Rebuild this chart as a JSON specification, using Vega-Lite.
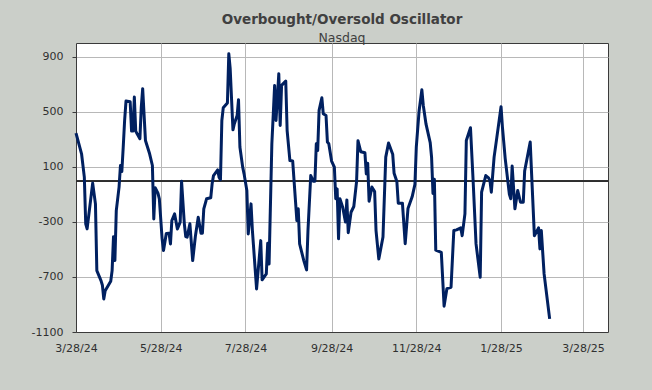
{
  "$schema": "https://vega.github.io/schema/vega-lite/v6.json",
  "width": 532,
  "height": 289,
  "autosize": {"type": "none"},
  "padding": {"left": 76, "top": 43, "right": 44, "bottom": 58},
  "background": "#cbcfc9",
  "config": {
    "view": {"stroke": "#3a3a3a", "strokeWidth": 1, "fill": "white"},
    "font": "DejaVu Sans"
  },
  "title": {
    "text": "Overbought/Oversold Oscillator",
    "subtitle": "Nasdaq",
    "anchor": "middle",
    "frame": "group",
    "font": "DejaVu Sans",
    "fontSize": 13.5,
    "fontWeight": "bold",
    "color": "#404040",
    "subtitleFont": "DejaVu Sans",
    "subtitleFontSize": 12.5,
    "subtitleColor": "#404040",
    "subtitlePadding": 5,
    "offset": -1
  },
  "data": {
    "values": [
      {"date": "2024-03-28", "value": 345},
      {"date": "2024-04-01", "value": 195},
      {"date": "2024-04-03", "value": 25},
      {"date": "2024-04-04", "value": -314},
      {"date": "2024-04-05", "value": -351},
      {"date": "2024-04-09", "value": -18},
      {"date": "2024-04-11", "value": -169},
      {"date": "2024-04-12", "value": -654},
      {"date": "2024-04-15", "value": -727},
      {"date": "2024-04-16", "value": -760},
      {"date": "2024-04-17", "value": -860},
      {"date": "2024-04-18", "value": -800},
      {"date": "2024-04-22", "value": -731},
      {"date": "2024-04-23", "value": -654},
      {"date": "2024-04-24", "value": -407},
      {"date": "2024-04-25", "value": -581},
      {"date": "2024-04-26", "value": -218},
      {"date": "2024-04-28", "value": -47},
      {"date": "2024-04-29", "value": 110},
      {"date": "2024-04-30", "value": 66},
      {"date": "2024-05-01", "value": 244},
      {"date": "2024-05-02", "value": 437},
      {"date": "2024-05-03", "value": 578},
      {"date": "2024-05-06", "value": 573},
      {"date": "2024-05-07", "value": 360},
      {"date": "2024-05-08", "value": 360},
      {"date": "2024-05-09", "value": 607},
      {"date": "2024-05-10", "value": 360},
      {"date": "2024-05-11", "value": 340},
      {"date": "2024-05-13", "value": 304},
      {"date": "2024-05-14", "value": 535},
      {"date": "2024-05-15", "value": 668},
      {"date": "2024-05-17", "value": 292},
      {"date": "2024-05-20", "value": 195},
      {"date": "2024-05-22", "value": 110},
      {"date": "2024-05-23", "value": -278},
      {"date": "2024-05-24", "value": -52},
      {"date": "2024-05-26", "value": -91},
      {"date": "2024-05-27", "value": -132},
      {"date": "2024-05-29", "value": -423},
      {"date": "2024-05-30", "value": -508},
      {"date": "2024-06-01", "value": -385},
      {"date": "2024-06-03", "value": -382},
      {"date": "2024-06-04", "value": -460},
      {"date": "2024-06-05", "value": -290},
      {"date": "2024-06-07", "value": -242},
      {"date": "2024-06-09", "value": -351},
      {"date": "2024-06-11", "value": -302},
      {"date": "2024-06-12", "value": -5},
      {"date": "2024-06-14", "value": -314},
      {"date": "2024-06-15", "value": -407},
      {"date": "2024-06-16", "value": -411},
      {"date": "2024-06-18", "value": -314},
      {"date": "2024-06-20", "value": -581},
      {"date": "2024-06-22", "value": -400},
      {"date": "2024-06-24", "value": -266},
      {"date": "2024-06-26", "value": -382},
      {"date": "2024-06-27", "value": -382},
      {"date": "2024-06-28", "value": -205},
      {"date": "2024-06-30", "value": -132},
      {"date": "2024-07-03", "value": -125},
      {"date": "2024-07-04", "value": -23},
      {"date": "2024-07-05", "value": 37},
      {"date": "2024-07-08", "value": 78},
      {"date": "2024-07-09", "value": 25},
      {"date": "2024-07-10", "value": 6},
      {"date": "2024-07-11", "value": 437},
      {"date": "2024-07-12", "value": 529},
      {"date": "2024-07-15", "value": 564},
      {"date": "2024-07-16", "value": 922},
      {"date": "2024-07-17", "value": 813},
      {"date": "2024-07-19", "value": 369},
      {"date": "2024-07-20", "value": 413},
      {"date": "2024-07-22", "value": 473},
      {"date": "2024-07-23", "value": 588},
      {"date": "2024-07-24", "value": 244},
      {"date": "2024-07-26", "value": 98},
      {"date": "2024-07-27", "value": 49},
      {"date": "2024-07-29", "value": -72},
      {"date": "2024-07-30", "value": -387},
      {"date": "2024-08-01", "value": -169},
      {"date": "2024-08-02", "value": -363},
      {"date": "2024-08-05", "value": -787},
      {"date": "2024-08-08", "value": -436},
      {"date": "2024-08-09", "value": -721},
      {"date": "2024-08-12", "value": -678},
      {"date": "2024-08-13", "value": -455},
      {"date": "2024-08-14", "value": -605},
      {"date": "2024-08-16", "value": 268},
      {"date": "2024-08-18", "value": 692},
      {"date": "2024-08-19", "value": 437},
      {"date": "2024-08-21", "value": 777},
      {"date": "2024-08-22", "value": 401},
      {"date": "2024-08-23", "value": 692},
      {"date": "2024-08-26", "value": 724},
      {"date": "2024-08-27", "value": 364},
      {"date": "2024-08-29", "value": 146},
      {"date": "2024-08-31", "value": 142},
      {"date": "2024-09-02", "value": -145},
      {"date": "2024-09-03", "value": -290},
      {"date": "2024-09-04", "value": -205},
      {"date": "2024-09-05", "value": -460},
      {"date": "2024-09-08", "value": -581},
      {"date": "2024-09-10", "value": -649},
      {"date": "2024-09-11", "value": -363},
      {"date": "2024-09-13", "value": 37},
      {"date": "2024-09-15", "value": -5},
      {"date": "2024-09-16", "value": -5},
      {"date": "2024-09-17", "value": 268},
      {"date": "2024-09-18", "value": 219},
      {"date": "2024-09-19", "value": 510},
      {"date": "2024-09-21", "value": 602},
      {"date": "2024-09-22", "value": 486},
      {"date": "2024-09-24", "value": 473},
      {"date": "2024-09-25", "value": 280},
      {"date": "2024-09-26", "value": 268},
      {"date": "2024-09-28", "value": 142},
      {"date": "2024-09-30", "value": 98},
      {"date": "2024-10-01", "value": -132},
      {"date": "2024-10-02", "value": -60},
      {"date": "2024-10-03", "value": -423},
      {"date": "2024-10-04", "value": -132},
      {"date": "2024-10-06", "value": -193},
      {"date": "2024-10-08", "value": -300},
      {"date": "2024-10-09", "value": -140},
      {"date": "2024-10-10", "value": -378},
      {"date": "2024-10-12", "value": -230},
      {"date": "2024-10-14", "value": -188},
      {"date": "2024-10-16", "value": -5},
      {"date": "2024-10-17", "value": 290},
      {"date": "2024-10-19", "value": 210},
      {"date": "2024-10-22", "value": 202},
      {"date": "2024-10-23", "value": 49},
      {"date": "2024-10-24", "value": 127},
      {"date": "2024-10-25", "value": -150},
      {"date": "2024-10-27", "value": -47},
      {"date": "2024-10-29", "value": -79},
      {"date": "2024-10-30", "value": -363},
      {"date": "2024-11-01", "value": -570},
      {"date": "2024-11-04", "value": -410},
      {"date": "2024-11-06", "value": 171},
      {"date": "2024-11-08", "value": 273},
      {"date": "2024-11-11", "value": 192},
      {"date": "2024-11-12", "value": 54},
      {"date": "2024-11-14", "value": -7},
      {"date": "2024-11-15", "value": -164},
      {"date": "2024-11-18", "value": -164},
      {"date": "2024-11-20", "value": -458},
      {"date": "2024-11-22", "value": -203},
      {"date": "2024-11-25", "value": -118},
      {"date": "2024-11-27", "value": -27},
      {"date": "2024-11-28", "value": 246},
      {"date": "2024-11-30", "value": 506},
      {"date": "2024-12-02", "value": 660},
      {"date": "2024-12-03", "value": 548},
      {"date": "2024-12-05", "value": 410},
      {"date": "2024-12-08", "value": 276},
      {"date": "2024-12-09", "value": 168},
      {"date": "2024-12-10", "value": -94},
      {"date": "2024-12-11", "value": 10},
      {"date": "2024-12-12", "value": -505},
      {"date": "2024-12-16", "value": -522},
      {"date": "2024-12-18", "value": -912},
      {"date": "2024-12-20", "value": -785},
      {"date": "2024-12-23", "value": -775},
      {"date": "2024-12-25", "value": -363},
      {"date": "2024-12-27", "value": -358},
      {"date": "2024-12-30", "value": -343},
      {"date": "2024-12-31", "value": -400},
      {"date": "2025-01-02", "value": -242},
      {"date": "2025-01-03", "value": 292},
      {"date": "2025-01-06", "value": 384},
      {"date": "2025-01-08", "value": -23},
      {"date": "2025-01-10", "value": -460},
      {"date": "2025-01-13", "value": -702},
      {"date": "2025-01-14", "value": -84},
      {"date": "2025-01-17", "value": 37},
      {"date": "2025-01-19", "value": 20},
      {"date": "2025-01-20", "value": 0},
      {"date": "2025-01-21", "value": -84},
      {"date": "2025-01-23", "value": 171},
      {"date": "2025-01-25", "value": 316},
      {"date": "2025-01-28", "value": 537},
      {"date": "2025-01-29", "value": 389},
      {"date": "2025-01-31", "value": 160},
      {"date": "2025-02-03", "value": -100},
      {"date": "2025-02-04", "value": -132},
      {"date": "2025-02-05", "value": 106},
      {"date": "2025-02-07", "value": -205},
      {"date": "2025-02-09", "value": -72},
      {"date": "2025-02-11", "value": -157},
      {"date": "2025-02-13", "value": -157},
      {"date": "2025-02-14", "value": 70},
      {"date": "2025-02-18", "value": 280},
      {"date": "2025-02-19", "value": 49},
      {"date": "2025-02-21", "value": -400},
      {"date": "2025-02-23", "value": -363},
      {"date": "2025-02-24", "value": -343},
      {"date": "2025-02-25", "value": -496},
      {"date": "2025-02-26", "value": -363},
      {"date": "2025-02-28", "value": -678},
      {"date": "2025-03-04", "value": -1005}
    ]
  },
  "layer": [
    {
      "mark": {"type": "rule", "color": "#333333", "strokeWidth": 1},
      "encoding": {
        "y": {"datum": 0, "type": "quantitative", "axis": {"title": null}}
      }
    },
    {
      "mark": {"type": "line", "color": "#002060", "strokeWidth": 3, "strokeJoin": "round"},
      "encoding": {
        "x": {
          "field": "date",
          "type": "temporal",
          "scale": {
            "type": "utc",
            "domain": [
              {"year": 2024, "month": 3, "date": 28, "utc": true},
              {"year": 2025, "month": 4, "date": 15, "utc": true}
            ]
          },
          "axis": {
            "title": null,
            "values": [
              {"year": 2024, "month": 3, "date": 28, "utc": true},
              {"year": 2024, "month": 5, "date": 28, "utc": true},
              {"year": 2024, "month": 7, "date": 28, "utc": true},
              {"year": 2024, "month": 9, "date": 28, "utc": true},
              {"year": 2024, "month": 11, "date": 28, "utc": true},
              {"year": 2025, "month": 1, "date": 28, "utc": true},
              {"year": 2025, "month": 3, "date": 28, "utc": true}
            ],
            "format": "%-m/%-d/%y",
            "grid": true,
            "gridColor": "#b8b8b8",
            "gridWidth": 1,
            "ticks": false,
            "domainColor": "#3a3a3a",
            "labelFont": "DejaVu Sans",
            "labelFontSize": 11,
            "labelColor": "#303030",
            "labelPadding": 10,
            "labelFlush": false,
            "labelOverlap": false
          }
        },
        "y": {
          "field": "value",
          "type": "quantitative",
          "scale": {"domain": [-1100, 1000], "nice": false, "zero": false},
          "axis": {
            "title": null,
            "values": [-1100, -700, -300, 100, 500, 900],
            "labelExpr": "datum.value < 0 ? '-' + abs(datum.value) : '' + datum.value",
            "grid": true,
            "gridColor": "#b8b8b8",
            "gridWidth": 1,
            "ticks": true,
            "tickSize": 4,
            "tickColor": "#3a3a3a",
            "domainColor": "#3a3a3a",
            "labelFont": "DejaVu Sans",
            "labelFontSize": 11,
            "labelColor": "#303030",
            "labelPadding": 9
          }
        }
      }
    }
  ]
}
